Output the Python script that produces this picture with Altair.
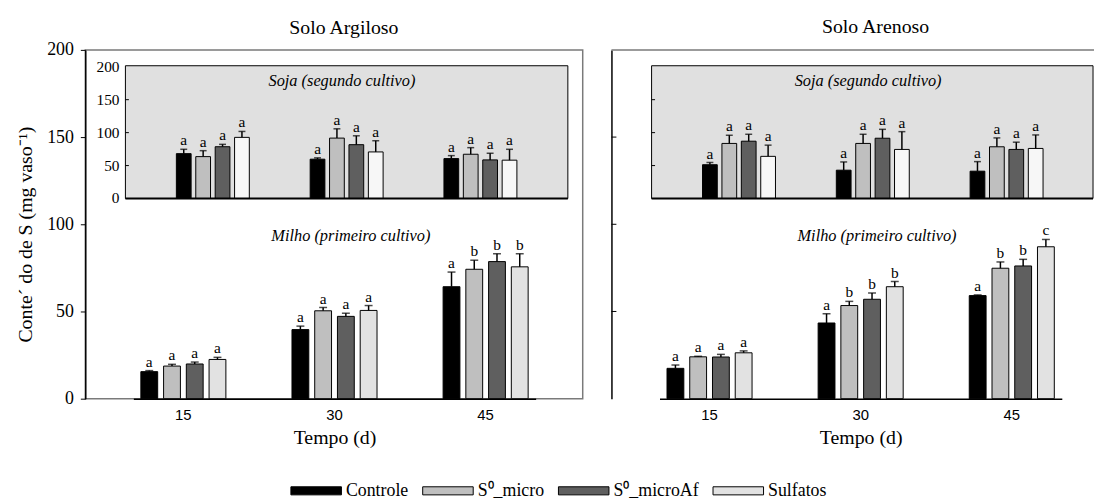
import altair as alt
import pandas as pd

SERIF = "Liberation Serif"
SERIF_LIST = "Liberation Serif, Times New Roman, serif"
SANS = "Liberation Sans"

tempos = ["15", "30", "45"]
trats = ["Controle", "S⁰_micro", "S⁰_microAf", "Sulfatos"]
bar_colors = ["#000000", "#bfbfbf", "#5f5f5f", "#e2e2e2"]
soja_colors = ["#000000", "#bfbfbf", "#5f5f5f", "#f7f7f7"]
y_ticks = [0, 50, 100, 150, 200]
inner_ticks = [50, 100, 150]

# ---- Solo Argiloso ----
arg_milho = [[15.5, 18.7, 19.9, 22.5], [39.6, 50.4, 47.2, 50.6], [64.2, 74.2, 78.6, 75.6]]
arg_milho_err = [[0.6, 1.0, 1.1, 1.2], [2.0, 1.9, 1.8, 2.8], [8.4, 5.2, 4.5, 7.5]]
arg_milho_let = [["a", "a", "a", "a"], ["a", "a", "a", "a"], ["a", "b", "b", "b"]]
arg_soja = [[68.1, 63.6, 78.6, 92.8], [59.7, 91.7, 81.7, 70.7], [60.6, 67.2, 58.6, 58.2]]
arg_soja_err = [[6.6, 9.0, 3.6, 9.0], [2.0, 14.1, 13.5, 17.0], [4.5, 10.0, 10.1, 16.5]]
arg_soja_let = [["a", "a", "a", "a"], ["a", "a", "a", "a"], ["a", "a", "a", "a"]]

# ---- Solo Arenoso ----
are_milho = [[17.4, 24.0, 23.9, 26.3], [43.4, 53.4, 57.0, 64.2], [59.1, 74.8, 76.1, 87.1]]
are_milho_err = [[1.9, 0.3, 1.5, 1.1], [5.3, 2.4, 3.6, 3.0], [0.4, 3.6, 3.8, 4.2]]
are_milho_let = [["a", "a", "a", "a"], ["a", "b", "b", "b"], ["a", "b", "b", "c"]]
are_soja = [[51.3, 83.6, 87.0, 64.0], [43.0, 83.6, 91.5, 74.5], [41.5, 78.5, 74.5, 76.0]]
are_soja_err = [[3.4, 12.4, 10.5, 17.0], [12.5, 13.9, 13.5, 27.0], [14.5, 13.5, 11.0, 20.5]]
are_soja_let = [["a", "a", "a", "a"], ["a", "a", "a", "a"], ["a", "a", "a", "a"]]


def make_df(milho, milho_err, milho_let, soja, soja_err, soja_let):
    rows = []
    for i, t in enumerate(tempos):
        for j, tr in enumerate(trats):
            rows.append(dict(tempo=t, trat=tr,
                             milho=milho[i][j], milho_err=milho_err[i][j], milho_let=milho_let[i][j],
                             soja=soja[i][j], soja_err=soja_err[i][j], soja_let=soja_let[i][j]))
    return pd.DataFrame(rows)


H = 352
W_L = 502
W_R = 487

leg = alt.Legend(orient="none", legendX=224, legendY=436, direction="horizontal", title=None,
                 symbolType="M-5,-0.8H5V0.8H-5Z", symbolSize=104, symbolStrokeColor="black",
                 symbolStrokeWidth=1, labelFont=SERIF_LIST, labelFontSize=18, labelColor="black",
                 labelFontStyle="normal", labelOffset=21, columnPadding=12, labelLimit=0)


def one(text):
    return alt.Chart(pd.DataFrame({"t": [text]}))


def panel(df, title, first, width, title_dx, title_offset, inset_x2):
    base = alt.Chart(df).transform_calculate(
        mhi="datum.milho + datum.milho_err", shi="datum.soja + datum.soja_err")

    # ---------------- main (Milho) ----------------
    x_main = alt.X("tempo:N", sort=tempos,
                   scale=alt.Scale(range=[48.5, 454.5], paddingInner=0.338, paddingOuter=0),
                   axis=alt.Axis(title="Tempo (d)", labelAngle=0, ticks=False, labelFont=SANS,
                                 labelFontSize=15, labelPadding=9, labelColor="black",
                                 titleFont=SERIF, titleFontSize=20, titleFontWeight="normal",
                                 titleColor="black", titlePadding=5, domainColor="black",
                                 domainWidth=1.5))
    xo_main = alt.XOffset("trat:N", sort=trats,
                          scale=alt.Scale(paddingInner=0.26, paddingOuter=0.33))
    ys = alt.Scale(domain=[0, 200], nice=False)
    if first:
        yaxis = alt.Axis(values=y_ticks, title="Conte´ do de S (mg vaso⁻¹)", grid=False,
                         tickSize=5, tickColor="black", domainColor="black", domainWidth=1.5,
                         labelFont=SERIF, labelFontSize=18, labelColor="black", labelPadding=7,
                         titleFont=SERIF, titleFontSize=20, titleFontWeight="normal",
                         titleColor="black", titlePadding=11, titleY=186)
    else:
        yaxis = alt.Axis(values=y_ticks, title="", grid=False, labels=False, ticks=False,
                         domainColor="black", domainWidth=1.5)

    bars = base.mark_bar(stroke="black", strokeWidth=1).encode(
        x=x_main, xOffset=xo_main,
        y=alt.Y("milho:Q", scale=ys, axis=yaxis),
        color=alt.Color("trat:N", sort=trats, scale=alt.Scale(domain=trats, range=bar_colors), legend=leg))
    err = base.mark_rule(color="black", strokeWidth=1.5).encode(
        x=x_main, xOffset=xo_main, y=alt.Y("milho:Q", scale=ys, axis=yaxis), y2="mhi:Q")
    caps = base.mark_tick(orient="horizontal", size=8, thickness=1.5, color="black").encode(
        x=x_main, xOffset=xo_main, y=alt.Y("mhi:Q", scale=ys, axis=yaxis))
    lets = base.mark_text(baseline="bottom", dy=-1, font=SERIF, fontSize=15.5, color="black").encode(
        x=x_main, xOffset=xo_main, y=alt.Y("mhi:Q", scale=ys, axis=yaxis), text="milho_let:N")
    milho_lbl = one("Milho (primeiro cultivo)").mark_text(
        font=SERIF, fontSize=16.5, fontStyle="italic", color="black").encode(
        text="t:N", x=alt.value(268), y=alt.value(188))

    main_layers = [bars, err, caps, lets, milho_lbl]
    if not first:
        tick_df = pd.DataFrame({"v": inner_ticks})
        in_ticks = alt.Chart(tick_df).mark_rule(color="black", strokeWidth=1).encode(
            y=alt.Y("v:Q", scale=ys, axis=yaxis), x=alt.value(0), x2=alt.value(5))
        top_border = one("top").mark_rule(color="#7a7a7a", strokeWidth=1.5).encode(
            x=alt.value(0), x2=alt.value(width), y=alt.value(0))
        main_layers = [top_border, in_ticks] + main_layers
    main = alt.layer(*main_layers)

    # ---------------- inset (Soja) ----------------
    x_in = alt.X("tempo:N", sort=tempos,
                 scale=alt.Scale(range=[83.5, 444], paddingInner=0.33, paddingOuter=0), axis=None)
    xo_in = alt.XOffset("trat:N", sort=trats,
                        scale=alt.Scale(paddingInner=0.24, paddingOuter=0.43))
    ysi = alt.Scale(domain=[0, 200], range=[150, 17], nice=False)

    bg = one("bg").mark_rect(fill="#e0e0e0", stroke="black", strokeWidth=1).encode(
        x=alt.value(40.5), x2=alt.value(inset_x2), y=alt.value(16), y2=alt.value(150))
    base_line = one("base").mark_rule(color="black", strokeWidth=2).encode(
        x=alt.value(40.5), x2=alt.value(inset_x2), y=alt.value(150))
    ibars = base.mark_bar(stroke="black", strokeWidth=1).encode(
        x=x_in, xOffset=xo_in, y=alt.Y("soja:Q", scale=ysi, axis=None),
        fill=alt.Fill("trat:N", sort=trats, scale=alt.Scale(domain=trats, range=soja_colors), legend=None))
    ierr = base.mark_rule(color="black", strokeWidth=1.5).encode(
        x=x_in, xOffset=xo_in, y=alt.Y("soja:Q", scale=ysi, axis=None), y2="shi:Q")
    icaps = base.mark_tick(orient="horizontal", size=7, thickness=1.5, color="black").encode(
        x=x_in, xOffset=xo_in, y=alt.Y("shi:Q", scale=ysi, axis=None))
    ilets = base.mark_text(baseline="bottom", dy=-1, font=SERIF, fontSize=15.5, color="black").encode(
        x=x_in, xOffset=xo_in, y=alt.Y("shi:Q", scale=ysi, axis=None), text="soja_let:N")
    itick_df = pd.DataFrame({"v": inner_ticks})
    iticks = alt.Chart(itick_df).mark_rule(color="black", strokeWidth=1).encode(
        y=alt.Y("v:Q", scale=ysi, axis=None), x=alt.value(40.5), x2=alt.value(44))
    soja_lbl = one("Soja (segundo cultivo)").mark_text(
        font=SERIF, fontSize=16.5, fontStyle="italic", color="black").encode(
        text="t:N", x=alt.value(259), y=alt.value(31))
    inset_layers = [bg, ibars, ierr, icaps, ilets, iticks, base_line, soja_lbl]
    if first:
        ilab_df = pd.DataFrame({"v": y_ticks})
        ilabels = alt.Chart(ilab_df).mark_text(
            align="right", baseline="middle", dx=-6, font=SERIF, fontSize=15.5, color="black").encode(
            y=alt.Y("v:Q", scale=ysi, axis=None), x=alt.value(40.5), text="v:Q")
        inset_layers.append(ilabels)
    inset = alt.layer(*inset_layers)

    ch = alt.layer(main, inset).resolve_scale(x="independent", y="independent", xOffset="independent")
    props = dict(width=width, height=H,
                 title=alt.TitleParams(title, font=SERIF, fontSize=20, fontWeight="normal",
                                       color="black", offset=title_offset, dx=title_dx, frame="group"))
    if not first:
        props["view"] = alt.ViewBackground(strokeOpacity=0)
    return ch.properties(**props)


df_arg = make_df(arg_milho, arg_milho_err, arg_milho_let, arg_soja, arg_soja_err, arg_soja_let)
df_are = make_df(are_milho, are_milho_err, are_milho_let, are_soja, are_soja_err, are_soja_let)

left = panel(df_arg, "Solo Argiloso", True, W_L, 10, 3, 487)
right = panel(df_are, "Solo Arenoso", False, W_R, 23, 12, 486)

chart = alt.hconcat(left, right, spacing=27).properties(
    padding={"left": 7, "top": 7, "right": 0, "bottom": 0}
).configure(
    font=SERIF
).configure_view(stroke="#7a7a7a", strokeWidth=1.5).configure_legend(
    labelFont=SERIF_LIST, labelFontSize=18, labelColor="black", labelLimit=0
)

chart.save("out.html", embed_options={"renderer": "svg", "actions": False})
